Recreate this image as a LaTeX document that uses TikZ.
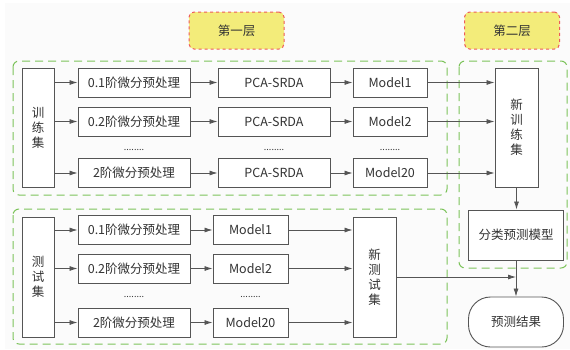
\documentclass[tikz,border=0pt]{standalone}
\usepackage{fontspec}
\setmainfont{Noto Sans CJK SC}
\usetikzlibrary{arrows.meta}
\definecolor{edge}{HTML}{555555}
\definecolor{txt}{HTML}{333333}
\definecolor{grn}{HTML}{7CC35A}
\definecolor{rd}{HTML}{EE5A5A}
\definecolor{yl}{HTML}{F3EC7A}
\definecolor{bg}{HTML}{FBFBFB}
\begin{document}
\begin{tikzpicture}[x=1pt,y=-1pt,
  box/.style={draw=edge,line width=0.9pt,fill=white,text=txt,inner sep=0pt,
    font=\fontsize{12.5}{15}\selectfont,align=center},
  lbl/.style={draw=rd,dashed,line width=1pt,fill=yl,rounded corners=5pt,text=txt,
    minimum width=95pt,minimum height=37pt,inner sep=0pt,font=\fontsize{12.5}{15}\selectfont},
  grp/.style={draw=grn,line width=1pt,rounded corners=6pt,dash pattern=on 8pt off 5pt},
  arr/.style={draw=edge,line width=0.8pt,-{Latex[length=8pt,width=5pt]}},
  dots/.style={text=txt,font=\fontsize{9}{10}\selectfont,inner sep=0pt}]
\useasboundingbox (0,0) rectangle (570,349);
\fill[bg] (5,3) rectangle (570,349);
% groups
\draw[grp] (13,61) rectangle (447,195);
\draw[grp] (13,209) rectangle (447,344);
\draw[grp] (459,61) rectangle (567,268);
% layer labels
\node[lbl] (l1) at (236.5,30.5) {第一层};
\node[lbl] (l2) at (512,30.5) {第二层};
% training set
\node[box,minimum width=32pt,minimum height=119pt] (tr) at (38,127.5) {训\\练\\集};
\node[box,minimum width=112pt,minimum height=29pt] (a1) at (134,82.5) {0.1阶微分预处理};
\node[box,minimum width=112pt,minimum height=29pt] (a2) at (134,121.5) {0.2阶微分预处理};
\node[box,minimum width=112pt,minimum height=29pt] (a3) at (134,173) {2阶微分预处理};
\node[box,minimum width=112pt,minimum height=29pt] (p1) at (274,82.5) {PCA-SRDA};
\node[box,minimum width=112pt,minimum height=29pt] (p2) at (274,121.5) {PCA-SRDA};
\node[box,minimum width=112pt,minimum height=29pt] (p3) at (274,173) {PCA-SRDA};
\node[box,minimum width=74pt,minimum height=29pt] (m1) at (390,82.5) {Model1};
\node[box,minimum width=74pt,minimum height=29pt] (m2) at (390,121.5) {Model2};
\node[box,minimum width=74pt,minimum height=29pt] (m3) at (390,173) {Model20};
\node[dots] (d1) at (134,150) {........};
\node[dots] (d2) at (274,150) {........};
\node[dots] (d3) at (390,150) {........};
\node[box,minimum width=43pt,minimum height=119pt] (nt) at (516.5,127.5) {新\\训\\练\\集};
\node[box,minimum width=95pt,minimum height=50pt] (cls) at (516,235) {分类预测模型};
\node[box,minimum width=95pt,minimum height=50pt,rounded corners=22pt] (res) at (516,322) {预测结果};
% test set
\node[box,minimum width=32pt,minimum height=120pt] (te) at (38,277) {测\\试\\集};
\node[box,minimum width=112pt,minimum height=29pt] (b1) at (134,230) {0.1阶微分预处理};
\node[box,minimum width=112pt,minimum height=29pt] (b2) at (134,268.5) {0.2阶微分预处理};
\node[box,minimum width=112pt,minimum height=29pt] (b3) at (134,322.5) {2阶微分预处理};
\node[box,minimum width=75pt,minimum height=29pt] (n1) at (250.5,230) {Model1};
\node[box,minimum width=75pt,minimum height=29pt] (n2) at (250.5,268.5) {Model2};
\node[box,minimum width=75pt,minimum height=29pt] (n3) at (250.5,322.5) {Model20};
\node[dots] (d4) at (134,297) {........};
\node[dots] (d5) at (250.5,297) {........};
\node[box,minimum width=43pt,minimum height=120pt] (ns) at (374.5,277) {新\\测\\试\\集};
% arrows training
\foreach \r in {a1,a2,a3} \draw[arr] (tr.east |- \r) -- (\r);
\draw[arr] (a1) -- (p1); \draw[arr] (a2) -- (p2); \draw[arr] (a3) -- (p3);
\draw[arr] (p1) -- (m1); \draw[arr] (p2) -- (m2); \draw[arr] (p3) -- (m3);
\foreach \r in {m1,m2,m3} \draw[arr] (\r) -- (\r -| nt.west);
\draw[arr] (nt.south) -- (nt.south |- cls.north);
\draw[arr] (cls) -- (res);
% arrows test
\foreach \r in {b1,b2,b3} \draw[arr] (te.east |- \r) -- (\r);
\draw[arr] (b1) -- (n1); \draw[arr] (b2) -- (n2); \draw[arr] (b3) -- (n3);
\foreach \r in {n1,n2,n3} \draw[arr] (\r) -- (\r -| ns.west);
\draw[arr] (ns.east) -- (ns.east -| cls.south);
\end{tikzpicture}
\end{document}
